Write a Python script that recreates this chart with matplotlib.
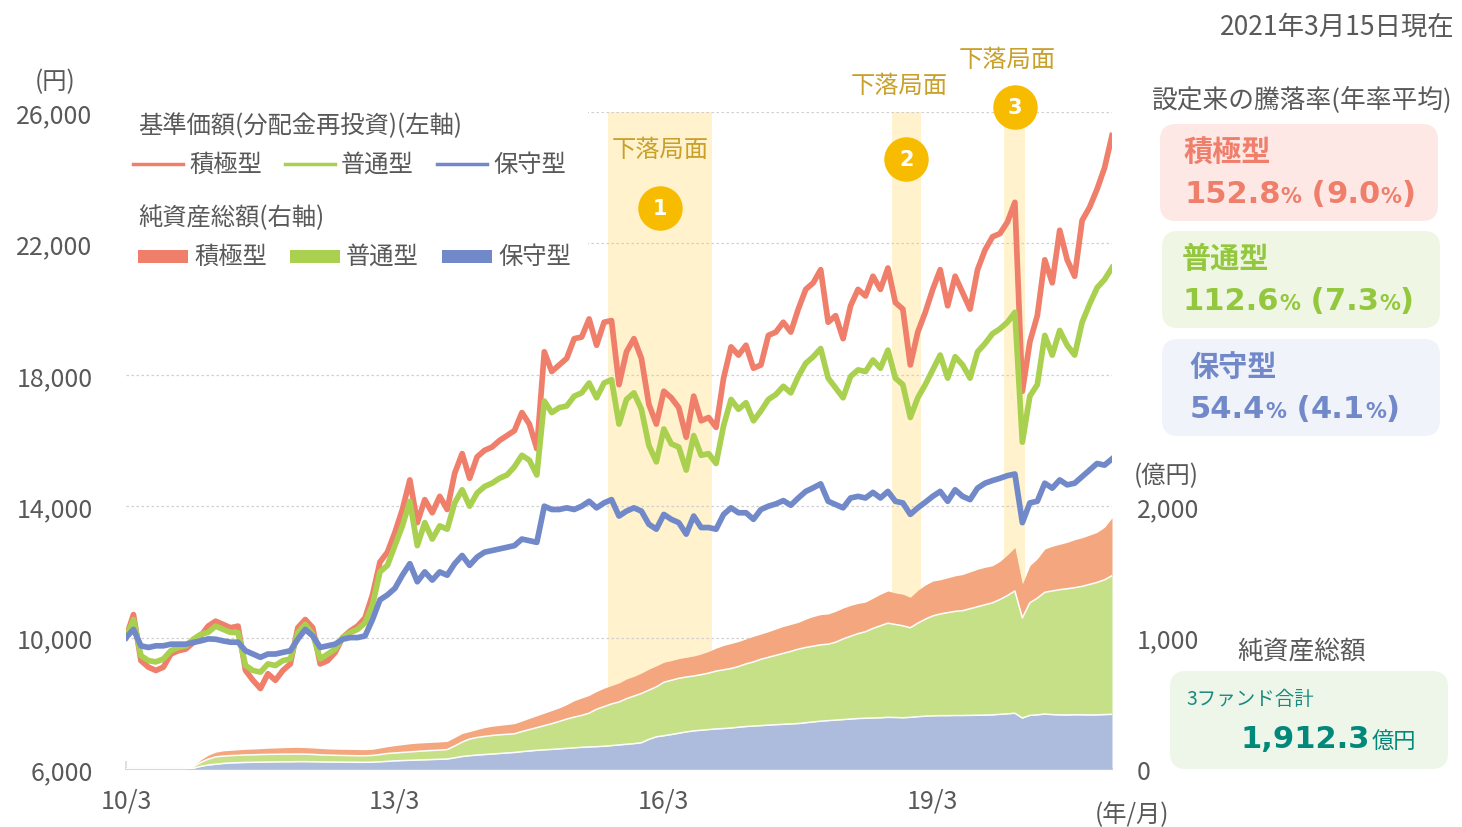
import matplotlib
matplotlib.use('Agg')
import matplotlib.pyplot as plt
import numpy as np
from matplotlib.patches import Rectangle, FancyBboxPatch
from matplotlib.transforms import IdentityTransform

plt.rcParams['font.family'] = ['Noto Sans CJK JP', 'DejaVu Sans']

W, H = 1462, 828

# monthly points, 2010/3 .. 2021/3 (month index 0..132)
tick_months = [0, 36, 72, 108]
tick_labels = ['10/3', '13/3', '16/3', '19/3']

# 基準価額 (円)
nav_sekkyoku = [
    10000, 10700, 9300, 9100, 9000, 9100, 9500, 9600, 9650, 9850,
    10050, 10350, 10500, 10400, 10300, 10350, 9000, 8700, 8450, 8900,
    8700, 9000, 9200, 10300, 10550, 10300, 9200, 9300, 9550, 10000,
    10200, 10350, 10600, 11300, 12300, 12600, 13200, 13900, 14800, 13500,
    14200, 13800, 14300, 13900, 15000, 15600, 14850, 15500, 15700, 15800,
    16000, 16150, 16300, 16850, 16500, 15750, 18700, 18100, 18300, 18500,
    19100, 19150, 19700, 18900, 19600, 19650, 17700, 18700, 19100, 18500,
    17100, 16500, 17500, 17300, 17000, 16100, 17350, 16600, 16700, 16400,
    17900, 18850, 18600, 18900, 18200, 18300, 19200, 19300, 19600, 19300,
    20000, 20600, 20800, 21200, 19600, 19800, 19100, 20100, 20600, 20400,
    21000, 20600, 21250, 20200, 20000, 18300, 19300, 19900, 20600, 21200,
    20100, 21000, 20500, 20000, 21200, 21800, 22200, 22300, 22650, 23250,
    17500, 19000, 19800, 21500, 20800, 22400, 21500, 21000, 22700, 23100,
    23650, 24300, 25280]
nav_futsu = [
    10000, 10550, 9450, 9300, 9260, 9350, 9600, 9700, 9750, 9950,
    10100, 10160, 10350, 10250, 10160, 10150, 9150, 9000, 8950, 9200,
    9150, 9300, 9350, 10150, 10400, 10100, 9350, 9500, 9650, 10000,
    10150, 10250, 10450, 11000, 12000, 12200, 12800, 13400, 14150, 12800,
    13500, 13000, 13400, 13300, 14100, 14500, 14000, 14400, 14600, 14700,
    14850, 14950, 15200, 15550, 15400, 14950, 17200, 16850, 17000, 17050,
    17350, 17450, 17750, 17300, 17750, 17850, 16500, 17250, 17450, 16950,
    15850, 15350, 16350, 15900, 15800, 15100, 16150, 15550, 15600, 15300,
    16450, 17250, 16950, 17150, 16600, 16900, 17250, 17400, 17650, 17450,
    17950, 18350, 18550, 18800, 17900, 17600, 17300, 17950, 18150, 18100,
    18450, 18200, 18750, 17900, 17700, 16700, 17300, 17700, 18150, 18600,
    17900, 18550, 18300, 17900, 18700, 18950, 19250, 19400, 19600, 19900,
    15950, 17350, 17700, 19200, 18600, 19350, 18900, 18600, 19600, 20150,
    20650, 20900, 21260]
nav_hoshu = [
    10000, 10250, 9750, 9700, 9750, 9750, 9800, 9800, 9800, 9850,
    9900, 9960, 9950, 9900, 9860, 9860, 9600, 9500, 9400, 9500,
    9500, 9550, 9600, 9950, 10250, 10050, 9700, 9750, 9800, 9950,
    10000, 10000, 10050, 10550, 11150, 11300, 11500, 11900, 12250, 11700,
    12000, 11750, 12000, 11900, 12250, 12500, 12200, 12450, 12600, 12650,
    12700, 12750, 12800, 13000, 12950, 12900, 14000, 13900, 13900, 13950,
    13900, 14000, 14150, 13950, 14100, 14200, 13700, 13850, 13950, 13850,
    13450, 13300, 13750, 13600, 13500, 13150, 13700, 13350, 13350, 13300,
    13750, 13950, 13800, 13800, 13600, 13900, 14000, 14070, 14170, 14030,
    14250, 14450, 14560, 14680, 14150, 14050, 13950, 14250, 14300, 14250,
    14420, 14250, 14450, 14150, 14100, 13750, 13950, 14120, 14300, 14450,
    14150, 14500, 14300, 14200, 14550, 14700, 14780, 14850, 14930, 14980,
    13500, 14100, 14150, 14700, 14550, 14800, 14650, 14700, 14900, 15100,
    15300, 15250, 15440]

# 純資産総額 (億円), stacked levels: 保守型 / +普通型 / +積極型
aum_hoshu = [
    0, 0, 0, 0, 0, 0, 0, 0, 0, 5,
    20, 30, 36, 42, 46, 48, 50, 51, 52, 53,
    54, 55, 55, 56, 56, 55, 54, 53, 53, 52,
    52, 51, 51, 52, 55, 58, 62, 64, 66, 68,
    70, 72, 74, 76, 85, 95, 101, 106, 110, 114,
    118, 122, 126, 132, 137, 142, 146, 149, 153, 157,
    161, 165, 168, 170, 173, 178, 183, 188, 193, 200,
    225, 245, 253, 262, 272, 282, 290, 295, 300, 305,
    308, 312, 318, 323, 327, 330, 334, 337, 340, 343,
    346, 352, 358, 364, 368, 372, 376, 380, 384, 386,
    388, 390, 393, 392, 390, 393, 398, 402, 405, 406,
    406, 407, 407, 408, 409, 410, 412, 416, 420, 424,
    388, 408, 412, 418, 414, 412, 411, 413, 412, 411,
    412, 414, 416]
aum_hoshu_futsu = [
    0, 0, 0, 0, 0, 0, 0, 0, 0, 15,
    50, 75, 92, 98, 102, 104, 107, 108, 110, 111,
    112, 113, 113, 114, 113, 111, 108, 106, 104, 103,
    102, 101, 101, 103, 110, 118, 122, 126, 130, 134,
    138, 141, 144, 148, 175, 205, 228, 240, 248, 255,
    260, 264, 268, 285, 300, 315, 330, 345, 362, 380,
    395, 408, 425, 455, 475, 495, 510, 535, 555, 575,
    600, 625, 660, 675, 690, 700, 708, 718, 730, 745,
    755, 765, 780, 800, 815, 835, 850, 865, 880, 895,
    912, 925, 935, 945, 950, 965, 990, 1010, 1030, 1045,
    1070, 1090, 1110, 1100, 1090, 1075, 1110, 1140, 1165, 1180,
    1190, 1200, 1205, 1220, 1235, 1250, 1265, 1290, 1320, 1355,
    1150, 1265, 1300, 1345, 1355, 1365, 1372, 1380, 1390, 1405,
    1420, 1440, 1471]
aum_total = [
    0, 0, 0, 0, 0, 0, 0, 0, 0, 20,
    70, 105, 128, 138, 142, 146, 150, 152, 155, 158,
    160, 162, 164, 165, 163, 160, 156, 153, 151, 150,
    149, 148, 147, 150, 160, 170, 178, 185, 192, 197,
    200, 203, 206, 210, 240, 270, 285, 300, 315, 325,
    332, 338, 345, 365, 385, 405, 425, 445, 465, 490,
    520, 540, 560, 590, 615, 635, 655, 685, 705, 730,
    760, 785, 812, 825, 840, 850, 860, 875, 895, 920,
    940, 955, 970, 990, 1010, 1027, 1045, 1065, 1085, 1100,
    1116, 1140, 1160, 1175, 1180, 1200, 1225, 1245, 1260, 1270,
    1300, 1330, 1355, 1340, 1330, 1307, 1360, 1400, 1430, 1440,
    1455, 1470, 1480, 1500, 1520, 1535, 1547, 1580, 1630, 1686,
    1408, 1547, 1600, 1674, 1695, 1710, 1725, 1745, 1760, 1780,
    1801, 1840, 1912]

# 下落局面 (month index)
phase_start = [64.5, 102.5, 117.5]
phase_end = [78.4, 106.4, 120.4]

returns = [('積極型', '152.8', '9.0'), ('普通型', '112.6', '7.3'), ('保守型', '54.4', '4.1')]
total_aum = '1,912.3'

c_red, c_green, c_blue = '#EF7E6B', '#A9D04F', '#7189C9'
a_red, a_green, a_blue = '#F4A67F', '#C5E086', '#ADBBDC'
grey = '#595959'

months = np.arange(len(nav_hoshu))

fig = plt.figure(figsize=(W / 100, H / 100), dpi=100)
ax = fig.add_axes([126 / W, 1 - 770 / H, (1112 - 126) / W, (770 - 113) / H])
ax.set_xlim(0, 132)
ax.set_ylim(6000, 26000)
ax2 = ax.twinx()
ax2.set_ylim(0, 5000)

for s, e in zip(phase_start, phase_end):
    ax.axvspan(s, e, color='#FFF2CC', lw=0, zorder=0)

ax.set_yticks([6000, 10000, 14000, 18000, 22000, 26000])
ax.set_yticklabels(['6,000', '10,000', '14,000', '18,000', '22,000', '26,000'])
ax.yaxis.grid(True, color='#D0D0D0', ls=(0, (2, 2)), lw=0.9)
ax.set_axisbelow(True)
ax.tick_params(axis='y', length=0, pad=24, labelsize=18, labelcolor=grey)
ax.set_xticks(tick_months)
ax.set_xticklabels(tick_labels)
ax.tick_params(axis='x', direction='in', length=6, width=1.2, color='#D9D9D9',
               pad=13, labelsize=18, labelcolor=grey)
for sp in ['top', 'left', 'right']:
    ax.spines[sp].set_visible(False)
    ax2.spines[sp].set_visible(False)
ax.spines['bottom'].set_color('#D9D9D9')
ax.spines['bottom'].set_linewidth(1.5)
ax2.spines['bottom'].set_visible(False)

ax2.set_yticks([0, 1000, 2000])
ax2.set_yticklabels(['0', '1,000', '2,000'])
ax2.tick_params(axis='y', length=0, pad=18, labelsize=18, labelcolor=grey)

# net assets stacked
ax2.fill_between(months, 0, aum_hoshu, color=a_blue, lw=0)
ax2.fill_between(months, aum_hoshu, aum_hoshu_futsu, color=a_green, lw=0)
ax2.fill_between(months, aum_hoshu_futsu, aum_total, color=a_red, lw=0)
ax2.plot(months, aum_hoshu, color='white', lw=1.1)
ax2.plot(months, aum_hoshu_futsu, color='white', lw=1.1)

# NAV lines
ax.plot(months, nav_sekkyoku, color=c_red, lw=4.1, zorder=3, solid_joinstyle='round')
ax.plot(months, nav_futsu, color=c_green, lw=4.1, zorder=3, solid_joinstyle='round')
ax.plot(months, nav_hoshu, color=c_blue, lw=4.1, zorder=3, solid_joinstyle='round')

# legend background hides gridlines
ax.add_patch(Rectangle((126, H - 282), 462, 170, transform=IdentityTransform(),
                       facecolor='white', edgecolor='none', zorder=1))


def ftext(x, y, s, **kw):
    kw.setdefault('color', grey)
    kw.setdefault('fontsize', 17.5)
    kw.setdefault('va', 'center')
    return fig.text(x / W, 1 - y / H, s, **kw)


# legend
ftext(138, 126, '基準価額(分配金再投資)(左軸)')
ftext(138, 218, '純資産総額(右軸)')
for x0, col, acol, lab in [(133, c_red, a_red, '積極型'), (285, c_green, a_green, '普通型'),
                           (437, c_blue, a_blue, '保守型')]:
    fig.add_artist(plt.Line2D([x0 / W, (x0 + 50) / W], [1 - 165 / H] * 2, color=col, lw=2.5))
    ftext(x0 + 56, 165, lab)
    fig.add_artist(Rectangle((x0 + 5, H - 264), 50, 13, transform=IdentityTransform(),
                             facecolor=col, edgecolor='none'))
    ftext(x0 + 61, 257, lab)

# axis units
ftext(55, 82, '(円)', ha='center')
ftext(1166, 476, '(億円)', ha='center')
ftext(1132, 815, '(年/月)', ha='center')

# 下落局面 markers
circ_y = [0.854, 0.928, 1.008]
text_y = [0.944, 1.041, 1.081]
text_dx = [0, -1, -1]
for i, (s, e) in enumerate(zip(phase_start, phase_end)):
    mid = (s + e) / 2
    ax.plot(mid, circ_y[i], 'o', ms=32, color='#F7BC00', mec='none',
            transform=ax.get_xaxis_transform(), clip_on=False, zorder=5)
    ax.text(mid, circ_y[i], str(i + 1), transform=ax.get_xaxis_transform(), color='white',
            fontsize=15, fontweight='bold', ha='center', va='center', zorder=6,
            family='DejaVu Sans')
    ax.text(mid + text_dx[i], text_y[i], '下落局面', transform=ax.get_xaxis_transform(),
            color='#C8A02A', fontsize=17.5, ha='center', va='center', zorder=6, clip_on=False)

# right panel
ftext(1455, 27, '2021年3月15日現在', ha='right', fontsize=19)
ftext(1151, 100, '設定来の騰落率(年率平均)', fontsize=18.5)

box_fc = ['#FDE8E6', '#EFF6E4', '#F1F3FA']
box_tc = [c_red, '#93C83E', c_blue]
box_top = [125, 232, 340]
box_x = [1160, 1162, 1162]
txt_x = [1183, 1182, 1189]
renderer = fig.canvas.get_renderer()


def chain(x, y, parts, color):
    for s, size in parts:
        t = ftext(x, y, s, fontsize=size, fontweight='bold', color=color, va='baseline',
                  family='DejaVu Sans')
        x += t.get_window_extent(renderer).width


for i, (name, cum, ann) in enumerate(returns):
    fig.add_artist(FancyBboxPatch((box_x[i], H - box_top[i] - 97), 278, 97,
                                  boxstyle='round,pad=0,rounding_size=16',
                                  transform=IdentityTransform(), facecolor=box_fc[i],
                                  edgecolor='none'))
    ftext(txt_x[i], box_top[i] + 27, name, fontsize=21, fontweight='bold', color=box_tc[i])
    chain(txt_x[i] + 1, box_top[i] + 78,
          [(cum, 22), ('%', 15), (' (', 22), (ann, 22), ('%', 15), (')', 22)], box_tc[i])

ftext(1237, 652, '純資産総額', fontsize=18.5)
fig.add_artist(FancyBboxPatch((1170, H - 770), 278, 98, boxstyle='round,pad=0,rounding_size=16',
                              transform=IdentityTransform(), facecolor='#EEF6EA',
                              edgecolor='none'))
ftext(1186, 700, '3ファンド合計', fontsize=14, color='#1A8A80')
t = ftext(1240, 748, total_aum, fontsize=22, fontweight='bold', color='#00897B',
          va='baseline', family='DejaVu Sans')
ftext(1240 + t.get_window_extent(renderer).width + 2, 748, '億円', fontsize=16,
      color='#00897B', va='baseline')

fig.savefig('out.png', dpi=100)
